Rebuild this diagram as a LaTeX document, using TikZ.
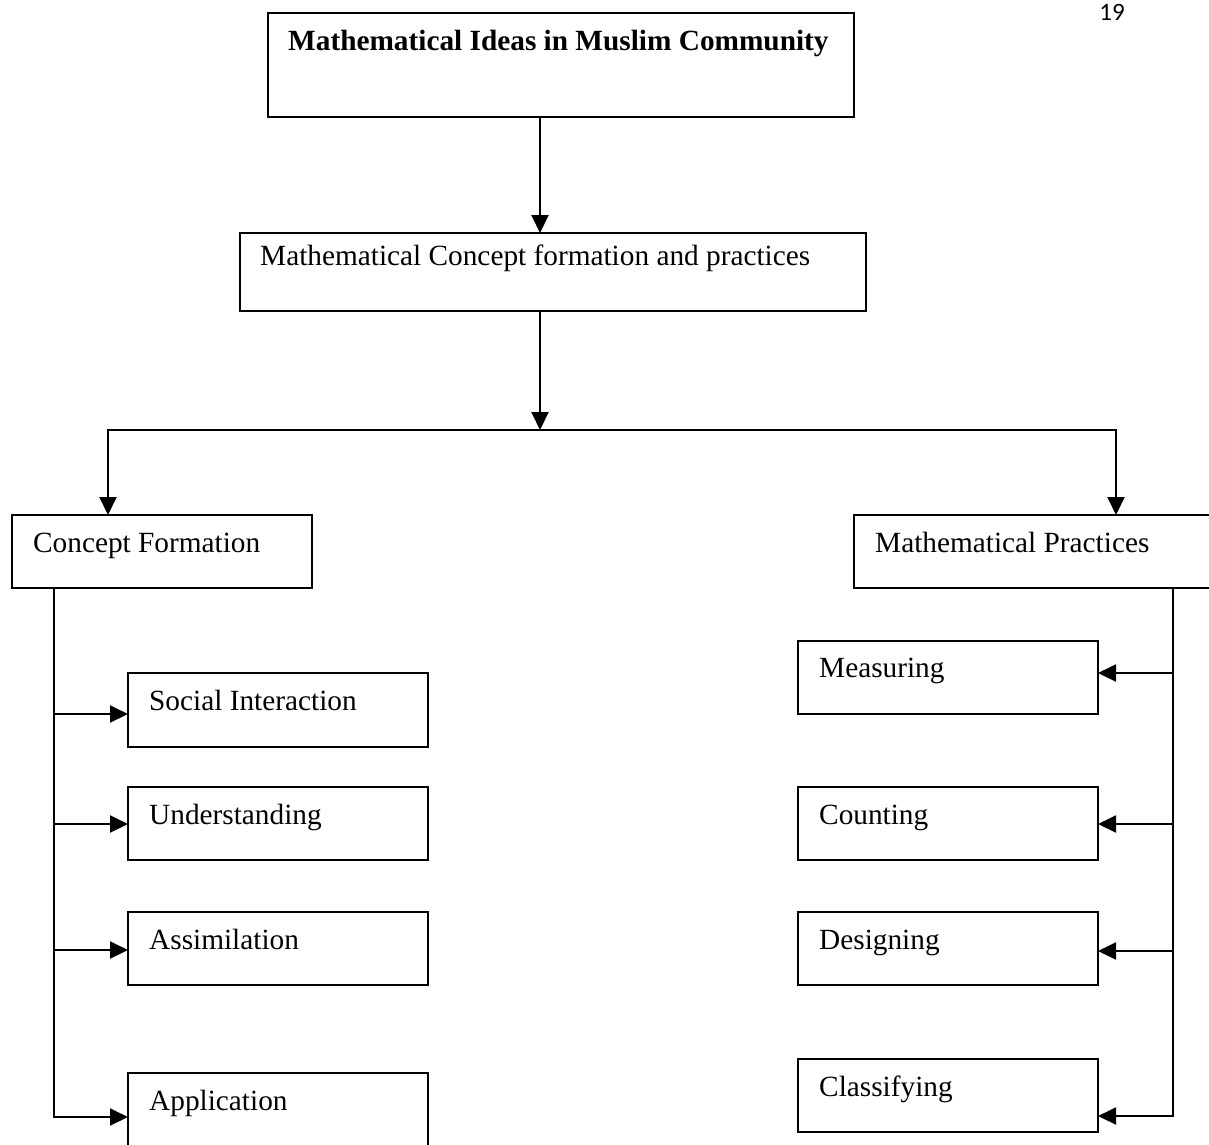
\documentclass[tikz,border=0pt]{standalone}
\usepackage{fontspec}
\setmainfont{Liberation Serif}
\newfontfamily\pagenumfont{Carlito}
\usetikzlibrary{arrows.meta,calc}
\tikzset{
  box/.style={draw=black, line width=2pt, rectangle, inner sep=0pt, outer sep=0pt, anchor=north west},
  lbl/.style={anchor=base west, inner sep=0pt, font=\fontsize{29.3}{34}\selectfont},
  conn/.style={line width=2pt},
  arr/.style={line width=2pt, -{Triangle[length=18pt,width=17pt]}},
}
\begin{document}
\begin{tikzpicture}[x=1pt,y=-1pt]
\useasboundingbox (0,0) rectangle (1209,1144);
\begin{scope}
\clip (0,0) rectangle (1209,1144);
% page number
\node[anchor=base, inner sep=0pt, font=\pagenumfont\fontsize{25}{30}\selectfont] (pg) at (1112,20) {19};
% boxes
\node[box, minimum width=586pt, minimum height=104pt] (title) at (268,13) {};
\node[lbl, font=\fontsize{29.3}{34}\selectfont\bfseries] (titlet) at ($(title.north west)+(20,37)$) {Mathematical Ideas in Muslim Community};
\node[box, minimum width=626pt, minimum height=78pt] (mcf) at (240,233) {};
\node[lbl] (mcft) at ($(mcf.north west)+(20,32)$) {Mathematical Concept formation and practices};
\node[box, minimum width=300pt, minimum height=73pt] (cf) at (12,515) {};
\node[lbl] (cft) at ($(cf.north west)+(21,37)$) {Concept Formation};
\node[box, minimum width=370pt, minimum height=73pt] (mp) at (854,515) {};
\node[lbl] (mpt) at ($(mp.north west)+(21,37)$) {Mathematical Practices};
% left children
\node[box, minimum width=300pt, minimum height=74pt] (si) at (128,673) {};
\node[lbl] (sit) at ($(si.north west)+(21,37)$) {Social Interaction};
\node[box, minimum width=300pt, minimum height=73pt] (und) at (128,787) {};
\node[lbl] (undt) at ($(und.north west)+(21,37)$) {Understanding};
\node[box, minimum width=300pt, minimum height=73pt] (ass) at (128,912) {};
\node[lbl] (asst) at ($(ass.north west)+(21,37)$) {Assimilation};
\node[box, minimum width=300pt, minimum height=80pt] (app) at (128,1073) {};
\node[lbl] (appt) at ($(app.north west)+(21,37)$) {Application};
% right children
\node[box, minimum width=300pt, minimum height=73pt] (mea) at (798,641) {};
\node[lbl] (meat) at ($(mea.north west)+(21,36)$) {Measuring};
\node[box, minimum width=300pt, minimum height=73pt] (cou) at (798,787) {};
\node[lbl] (cout) at ($(cou.north west)+(21,37)$) {Counting};
\node[box, minimum width=300pt, minimum height=73pt] (des) at (798,912) {};
\node[lbl] (dest) at ($(des.north west)+(21,37)$) {Designing};
\node[box, minimum width=300pt, minimum height=73pt] (cla) at (798,1059) {};
\node[lbl] (clat) at ($(cla.north west)+(21,37)$) {Classifying};
% junction coordinates
\coordinate (j) at (540,430);
\coordinate (jl) at (108,430);
\coordinate (jr) at (1116,430);
\coordinate (ls) at (54,588);
\coordinate (lsb) at (54,1117);
\coordinate (rs) at (1173,588);
\coordinate (rsb) at (1173,1116);
% connectors
\draw[arr] (title.south -| j) -- (mcf.north -| j);
\draw[arr] (mcf.south -| j) -- (j);
\draw[conn, line cap=rect] (jl) -- (jr);
\draw[arr] (jl) -- (jl |- cf.north);
\draw[arr] (jr) -- (jr |- mp.north);
% left spine
\draw[conn, line cap=rect] (ls |- cf.south) -- (lsb);
\draw[arr] (54,714) -- (si.west |- 0,714);
\draw[arr] (54,824) -- (und.west |- 0,824);
\draw[arr] (54,950) -- (ass.west |- 0,950);
\draw[arr] (lsb) -- (app.west |- lsb);
% right spine
\draw[conn, line cap=rect] (rs |- mp.south) -- (rsb);
\draw[arr] (1173,673) -- (mea.east |- 0,673);
\draw[arr] (1173,824) -- (cou.east |- 0,824);
\draw[arr] (1173,951) -- (des.east |- 0,951);
\draw[arr] (rsb) -- (cla.east |- rsb);
\end{scope}
\end{tikzpicture}
\end{document}
